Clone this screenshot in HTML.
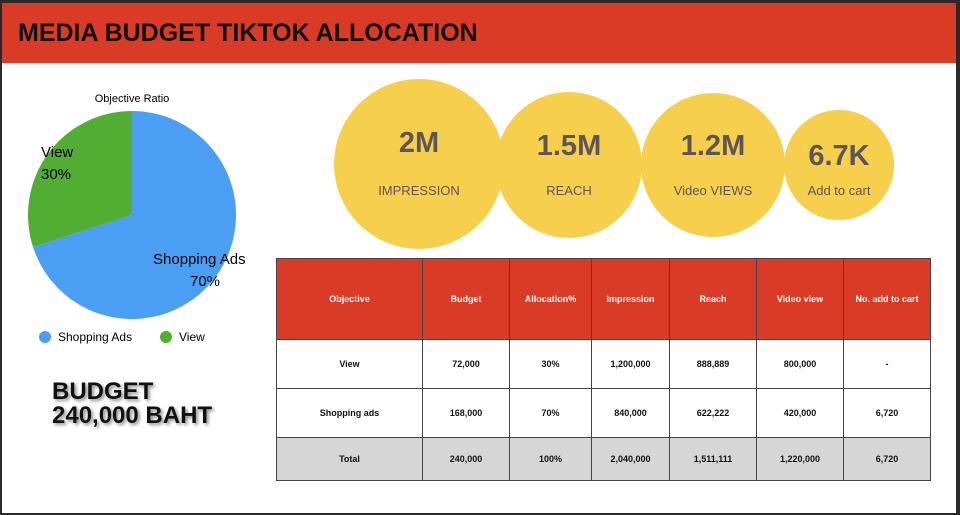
<!DOCTYPE html>
<html><head><meta charset="utf-8">
<style>
*{margin:0;padding:0;box-sizing:border-box}
body{width:960px;height:515px;overflow:hidden;background:#fff;font-family:"Liberation Sans",sans-serif;position:relative}
#frame{position:absolute;left:0;top:0;width:960px;height:515px;border:2px solid #2a2a2a;border-right:4px solid #2a2a2a;pointer-events:none}
#header{position:absolute;left:0;top:0;width:960px;height:63px;background:#d93b27;border-top:3px solid #2a2a2a}
#title{position:absolute;left:18px;top:16px;font-size:25px;font-weight:bold;color:#111;letter-spacing:0px}
.circ{position:absolute;border-radius:50%;background:#f6d04d;text-align:center;color:#5e5558}
.circ .v{position:absolute;width:100%;font-weight:bold;font-size:29px}
.circ .l{position:absolute;width:100%;font-size:13px}
table{position:absolute;left:276px;top:258px;border-collapse:collapse;font-size:9px;font-weight:bold;text-align:center}
td,th{border:1px solid #444}
th{background:#d93b27;color:#fff;height:81px}
.r td{height:49px;color:#111}
.t td{height:43px;background:#d6d6d6;color:#111}
#budget{position:absolute;left:52px;top:380px;font-size:24px;font-weight:900;line-height:24px;color:#111;text-shadow:2px 2px 3px rgba(0,0,0,.45)}
</style></head><body>
<div id="header"><div id="title">MEDIA BUDGET TIKTOK ALLOCATION</div></div>

<svg id="pie" width="280" height="360" style="position:absolute;left:0;top:80px" font-family="Liberation Sans, sans-serif">
<text x="132" y="22" font-size="11" text-anchor="middle">Objective Ratio</text>
<g id="slices"></g>
<g id="labels"></g>
<circle cx="45" cy="257" r="6" fill="#4a9ff5"/>
<text x="58" y="261" font-size="12">Shopping Ads</text>
<circle cx="166" cy="257" r="6" fill="#52ad33"/>
<text x="179" y="261" font-size="12">View</text>
</svg>

<div id="budget">BUDGET<br>240,000 BAHT</div>

<div class="circ" style="left:334px;top:79px;width:170px;height:170px"><div class="v" style="top:48px">2M</div><div class="l" style="top:104px">IMPRESSION</div></div>
<div class="circ" style="left:496px;top:92px;width:146px;height:146px"><div class="v" style="top:38px">1.5M</div><div class="l" style="top:91px">REACH</div></div>
<div class="circ" style="left:641px;top:93px;width:144px;height:144px"><div class="v" style="top:37px">1.2M</div><div class="l" style="top:90px">Video VIEWS</div></div>
<div class="circ" style="left:784px;top:110px;width:110px;height:110px"><div class="v" style="top:30px">6.7K</div><div class="l" style="top:73px">Add to cart</div></div>

<table>
<tr><th style="width:146px">Objective</th><th style="width:87px">Budget</th><th style="width:82px">Allocation%</th><th style="width:78px">Impression</th><th style="width:87px">Reach</th><th style="width:87px">Video view</th><th style="width:87px">No. add to cart</th></tr>
<tr class="r"><td>View</td><td>72,000</td><td>30%</td><td>1,200,000</td><td>888,889</td><td>800,000</td><td>-</td></tr>
<tr class="r"><td>Shopping ads</td><td>168,000</td><td>70%</td><td>840,000</td><td>622,222</td><td>420,000</td><td>6,720</td></tr>
<tr class="t"><td>Total</td><td>240,000</td><td>100%</td><td>2,040,000</td><td>1,511,111</td><td>1,220,000</td><td>6,720</td></tr>
</table>
<div id="frame"></div>

<script>
const categories = ["Shopping Ads", "View"];
const values = [70, 30];
const colors = ["#4a9ff5", "#52ad33"];
const cx = 132, cy = 135, r = 104;
const NS = "http://www.w3.org/2000/svg";
const total = values.reduce((a, b) => a + b, 0);
function pt(frac, rad) { const a = frac * 2 * Math.PI - Math.PI / 2; return [cx + rad * Math.cos(a), cy + rad * Math.sin(a)]; }
let acc = 0;
const sg = document.getElementById('slices'), lg = document.getElementById('labels');
values.forEach((v, i) => {
  const f0 = acc / total, f1 = (acc + v) / total; acc += v;
  const [x0, y0] = pt(f0, r), [x1, y1] = pt(f1, r);
  const large = (f1 - f0) > 0.5 ? 1 : 0;
  const p = document.createElementNS(NS, 'path');
  p.setAttribute('d', `M${cx},${cy}L${x0},${y0}A${r},${r} 0 ${large} 1 ${x1},${y1}Z`);
  p.setAttribute('fill', colors[i]);
  
  
  sg.appendChild(p);
  const isMain = i === 0;
  const t1 = document.createElementNS(NS, 'text');
  t1.setAttribute('x', isMain ? 153 : 41); t1.setAttribute('y', isMain ? 184 : 77);
  t1.setAttribute('font-size', '15');
  t1.textContent = categories[i];
  
  
  lg.appendChild(t1);
  const t2 = document.createElementNS(NS, 'text');
  t2.setAttribute('x', isMain ? 190 : 41); t2.setAttribute('y', isMain ? 206 : 99);
  t2.setAttribute('font-size', '15');
  t2.textContent = Math.round(v / total * 100) + '%';
  
  
  lg.appendChild(t2);
});
</script>
</body></html>
